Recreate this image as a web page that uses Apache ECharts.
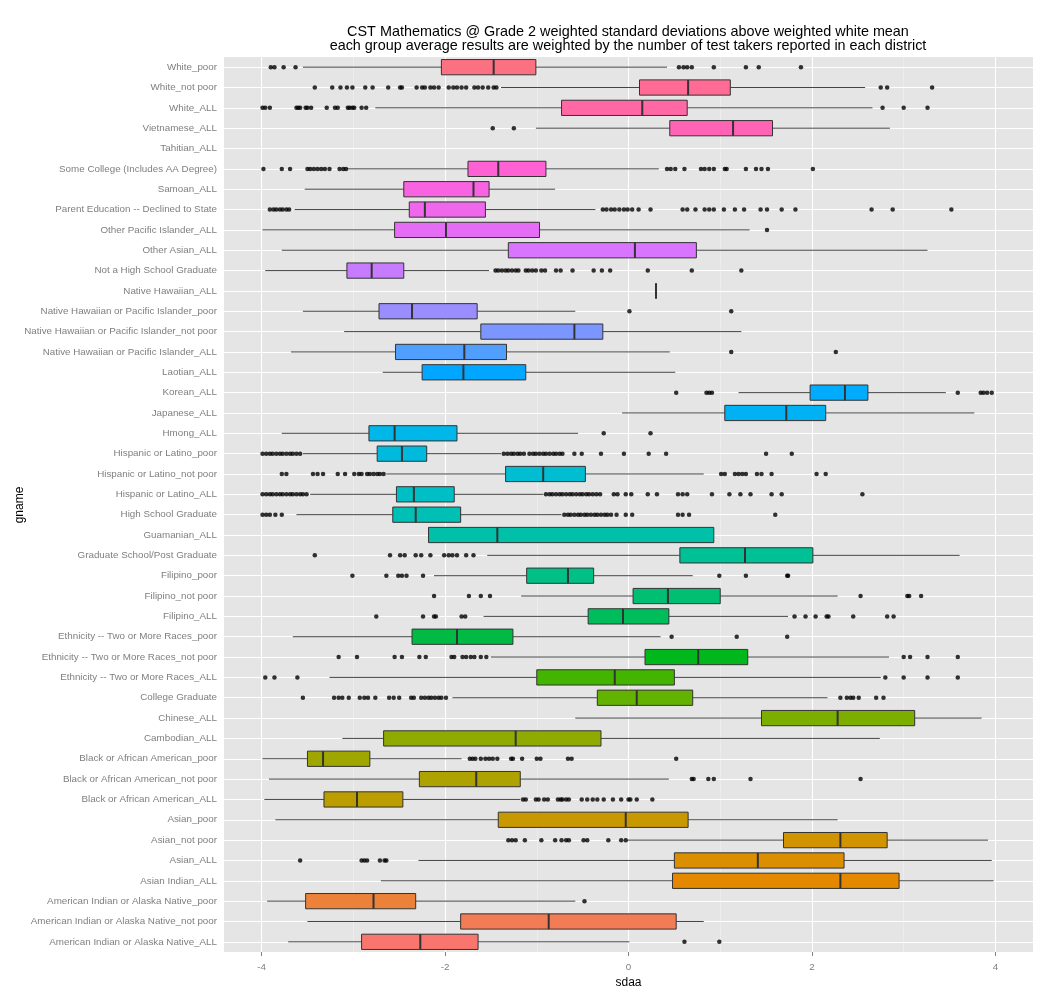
<!DOCTYPE html>
<html>
<head>
<meta charset="utf-8">
<script src="https://cdn.jsdelivr.net/npm/echarts@6/dist/echarts.min.js"></script>
<style>
  html, body { margin: 0; padding: 0; background: #fff; }
  #main { width: 1052px; height: 996px; }
</style>
</head>
<body>
<div id="main"></div>
<script>
// groups, bottom to top (alphabetical factor levels)
const categories = [
  'American Indian or Alaska Native_ALL',
  'American Indian or Alaska Native_not poor',
  'American Indian or Alaska Native_poor',
  'Asian Indian_ALL',
  'Asian_ALL',
  'Asian_not poor',
  'Asian_poor',
  'Black or African American_ALL',
  'Black or African American_not poor',
  'Black or African American_poor',
  'Cambodian_ALL',
  'Chinese_ALL',
  'College Graduate',
  'Ethnicity -- Two or More Races_ALL',
  'Ethnicity -- Two or More Races_not poor',
  'Ethnicity -- Two or More Races_poor',
  'Filipino_ALL',
  'Filipino_not poor',
  'Filipino_poor',
  'Graduate School/Post Graduate',
  'Guamanian_ALL',
  'High School Graduate',
  'Hispanic or Latino_ALL',
  'Hispanic or Latino_not poor',
  'Hispanic or Latino_poor',
  'Hmong_ALL',
  'Japanese_ALL',
  'Korean_ALL',
  'Laotian_ALL',
  'Native Hawaiian or Pacific Islander_ALL',
  'Native Hawaiian or Pacific Islander_not poor',
  'Native Hawaiian or Pacific Islander_poor',
  'Native Hawaiian_ALL',
  'Not a High School Graduate',
  'Other Asian_ALL',
  'Other Pacific Islander_ALL',
  'Parent Education -- Declined to State',
  'Samoan_ALL',
  'Some College (Includes AA Degree)',
  'Tahitian_ALL',
  'Vietnamese_ALL',
  'White_ALL',
  'White_not poor',
  'White_poor'
];

const whiskerLow = [-3.71, -3.50, -3.94, -2.70, -2.29, -0.01, -3.85, -3.97, -3.92, -3.99,
  -3.12, -0.58, -1.92, -3.26, -1.50, -3.66, -1.58, -1.17, -2.12, -1.54,
  -2.18, -3.62, -3.47, -2.64, -3.55, -3.78, -0.07, 1.20, -2.68, -3.68,
  -3.10, -3.55, 0.30, -3.96, -3.78, -3.99, -3.64, -3.53, -3.07, null,
  -1.01, -2.76, -1.39, -3.55];
const q1 = [-2.91, -1.83, -3.52, 0.48, 0.50, 1.69, -1.42, -3.32, -2.28, -3.50,
  -2.67, 1.45, -0.34, -1.00, 0.18, -2.36, -0.44, 0.05, -1.11, 0.56,
  -2.18, -2.57, -2.53, -1.34, -2.74, -2.83, 1.05, 1.98, -2.25, -2.54,
  -1.61, -2.72, 0.30, -3.07, -1.31, -2.55, -2.39, -2.45, -1.75, null,
  0.45, -0.73, 0.12, -2.04];
const median = [-2.27, -0.87, -2.78, 2.31, 1.41, 2.31, -0.03, -2.96, -1.66, -3.33,
  -1.23, 2.28, 0.09, -0.15, 0.76, -1.87, -0.06, 0.43, -0.66, 1.27,
  -1.43, -2.32, -2.34, -0.93, -2.47, -2.55, 1.72, 2.36, -1.80, -1.79,
  -0.59, -2.36, 0.30, -2.80, 0.07, -1.99, -2.22, -1.69, -1.42, null,
  1.14, 0.15, 0.65, -1.47];
const q3 = [-1.64, 0.52, -2.32, 2.95, 2.35, 2.82, 0.65, -2.46, -1.18, -2.82,
  -0.30, 3.12, 0.70, 0.50, 1.30, -1.26, 0.44, 1.00, -0.38, 2.01,
  0.93, -1.83, -1.90, -0.47, -2.20, -1.87, 2.15, 2.61, -1.12, -1.33,
  -0.28, -1.65, 0.30, -2.45, 0.74, -0.97, -1.56, -1.52, -0.90, null,
  1.57, 0.64, 1.11, -1.01];
const whiskerHigh = [0.01, 0.82, -0.58, 3.98, 3.96, 3.92, 2.28, -1.18, 0.44, -1.82,
  2.74, 3.85, 2.17, 2.75, 2.84, 0.35, 1.74, 2.28, 0.70, 3.61,
  0.93, -0.73, -0.93, 0.82, -1.39, -0.55, 3.77, 3.46, 0.51, 0.45,
  1.23, -0.58, 0.30, -1.52, 3.26, 1.32, -0.36, -0.80, 0.33, null,
  2.85, 2.66, 2.58, 0.42];

// outlying districts per group (same order as categories)
const outliers = [
  [0.61, 0.99],
  [],
  [-0.48],
  [],
  [-3.58, -2.91, -2.88, -2.85, -2.71, -2.66, -2.64],
  [-1.31, -1.27, -1.23, -1.13, -0.95, -0.80, -0.73, -0.68, -0.65, -0.49, -0.45, -0.22, -0.08, -0.03],
  [],
  [-1.15, -1.12, -1.01, -0.98, -0.92, -0.88, -0.77, -0.74, -0.72, -0.68, -0.65, -0.51, -0.45, -0.39, -0.34, -0.27, -0.17, -0.08, 0.00, 0.02, 0.09, 0.26],
  [0.69, 0.71, 0.87, 0.93, 1.33, 2.53],
  [-1.73, -1.70, -1.67, -1.61, -1.56, -1.52, -1.48, -1.43, -1.28, -1.26, -1.16, -1.00, -0.96, -0.66, -0.62, 0.52],
  [],
  [],
  [-3.55, -3.21, -3.16, -3.12, -3.05, -2.93, -2.88, -2.84, -2.76, -2.61, -2.56, -2.50, -2.37, -2.34, -2.26, -2.22, -2.18, -2.15, -2.11, -2.07, -2.04, -1.99, 2.31, 2.38, 2.42, 2.45, 2.51, 2.70, 2.78],
  [-3.96, -3.86, -3.61, 2.80, 3.00, 3.26, 3.59],
  [-3.16, -2.96, -2.55, -2.47, -2.28, -2.21, -1.93, -1.90, -1.81, -1.77, -1.72, -1.68, -1.61, -1.55, 3.00, 3.07, 3.26, 3.59],
  [0.47, 1.18, 1.73],
  [-2.75, -2.24, -2.12, -2.10, -1.82, -1.78, 1.81, 1.93, 2.04, 2.16, 2.18, 2.45, 2.82, 2.89],
  [-2.12, -1.74, -1.61, -1.51, 2.53, 3.04, 3.06, 3.19],
  [-3.01, -2.64, -2.51, -2.47, -2.42, -2.24, 0.99, 1.28, 1.73, 1.74],
  [-3.42, -2.60, -2.49, -2.44, -2.32, -2.26, -2.16, -2.01, -1.96, -1.92, -1.87, -1.77, -1.69],
  [],
  [-3.99, -3.95, -3.91, -3.85, -3.78, -0.70, -0.66, -0.63, -0.59, -0.55, -0.52, -0.48, -0.45, -0.41, -0.37, -0.34, -0.30, -0.26, -0.23, -0.19, -0.13, -0.03, 0.04, 0.54, 0.59, 0.66, 1.60],
  [-3.99, -3.95, -3.91, -3.88, -3.84, -3.80, -3.77, -3.73, -3.69, -3.66, -3.62, -3.58, -3.55, -3.51, -0.90, -0.86, -0.83, -0.79, -0.75, -0.72, -0.68, -0.64, -0.61, -0.57, -0.53, -0.50, -0.46, -0.43, -0.39, -0.35, -0.31, -0.16, -0.12, -0.03, 0.03, 0.21, 0.31, 0.54, 0.59, 0.64, 0.91, 1.10, 1.22, 1.33, 1.56, 1.67, 2.55],
  [-3.78, -3.73, -3.44, -3.39, -3.33, -3.17, -3.09, -2.99, -2.94, -2.91, -2.85, -2.82, -2.78, -2.74, -2.71, -2.67, 1.01, 1.05, 1.16, 1.20, 1.24, 1.28, 1.40, 1.45, 1.56, 2.05, 2.15],
  [-3.99, -3.95, -3.91, -3.88, -3.84, -3.80, -3.77, -3.73, -3.69, -3.66, -3.62, -3.58, -1.36, -1.32, -1.28, -1.25, -1.21, -1.18, -1.14, -1.08, -1.04, -1.01, -0.97, -0.93, -0.90, -0.86, -0.82, -0.79, -0.75, -0.72, -0.59, -0.51, -0.30, -0.05, 0.22, 0.41, 1.50, 1.78],
  [-0.27, 0.24],
  [],
  [0.52, 0.85, 0.88, 0.91, 3.59, 3.84, 3.87, 3.91, 3.96],
  [],
  [1.12, 2.26],
  [],
  [0.01, 1.12],
  [],
  [-1.45, -1.42, -1.38, -1.34, -1.31, -1.27, -1.23, -1.20, -1.12, -1.09, -1.05, -1.01, -0.95, -0.91, -0.79, -0.74, -0.61, -0.38, -0.29, -0.20, 0.21, 0.69, 1.23],
  [],
  [1.51],
  [-3.91, -3.87, -3.84, -3.80, -3.77, -3.73, -3.70, -0.28, -0.24, -0.19, -0.15, -0.10, -0.05, -0.01, 0.04, 0.11, 0.24, 0.59, 0.64, 0.73, 0.83, 0.88, 0.93, 1.04, 1.16, 1.26, 1.44, 1.51, 1.67, 1.82, 2.65, 2.88, 3.52],
  [],
  [-3.98, -3.78, -3.69, -3.50, -3.47, -3.43, -3.39, -3.35, -3.31, -3.26, -3.15, -3.11, -3.08, 0.42, 0.46, 0.51, 0.61, 0.79, 0.83, 0.88, 0.93, 1.05, 1.07, 1.28, 1.39, 1.45, 1.52, 2.01],
  [],
  [-1.48, -1.25],
  [-3.99, -3.96, -3.91, -3.62, -3.60, -3.58, -3.52, -3.50, -3.46, -3.29, -3.20, -3.17, -3.06, -3.04, -3.01, -2.99, -2.91, -2.86, 2.77, 3.00, 3.26],
  [-3.42, -3.23, -3.14, -3.07, -3.01, -2.87, -2.79, -2.62, -2.49, -2.47, -2.31, -2.25, -2.22, -2.16, -2.12, -2.07, -1.96, -1.91, -1.87, -1.82, -1.77, -1.68, -1.64, -1.59, -1.53, -1.47, -1.44, 2.75, 2.82, 3.31],
  [-3.90, -3.86, -3.76, -3.63, 0.55, 0.60, 0.64, 0.69, 0.93, 1.28, 1.42, 1.88]
];

const xTicks = [-4, -2, 0, 2, 4];
const xMinor = [-3, -1, 1, 3];

// ggplot-like hue palette (hcl, c = 100, l = 65)
function hcl(h, c, l) {
  const hr = h * Math.PI / 180;
  const U = c * Math.cos(hr), V = c * Math.sin(hr);
  const Xn = 95.047, Yn = 100, Zn = 108.883;
  const un = 4 * Xn / (Xn + 15 * Yn + 3 * Zn), vn = 9 * Yn / (Xn + 15 * Yn + 3 * Zn);
  const Y = l > 8 ? Yn * Math.pow((l + 16) / 116, 3) : Yn * l / 903.3;
  const u = U / (13 * l) + un, v = V / (13 * l) + vn;
  const X = 9 * Y * u / (4 * v);
  const Z = (9 * Y / v - X - 15 * Y) / 3;
  const x = X / 100, y = Y / 100, z = Z / 100;
  const lin = [
    3.240479 * x - 1.537150 * y - 0.498535 * z,
    -0.969256 * x + 1.875992 * y + 0.041556 * z,
    0.055648 * x - 0.204043 * y + 1.057311 * z
  ];
  return '#' + lin.map(t => {
    t = t <= 0.0031308 ? 12.92 * t : 1.055 * Math.pow(t, 1 / 2.4) - 0.055;
    t = Math.max(0, Math.min(1, t));
    return Math.round(t * 255).toString(16).padStart(2, '0');
  }).join('');
}
const boxColors = categories.map((c, i) => hcl(15 + i * 360 / categories.length, 100, 65));

const boxData = [];
categories.forEach((c, i) => {
  if (median[i] === null) return;
  boxData.push([i, whiskerLow[i], q1[i], median[i], q3[i], whiskerHigh[i]]);
});
const outlierData = [];
outliers.forEach((vals, i) => vals.forEach(v => outlierData.push([v, i])));

function renderBox(params, api) {
  const i = api.value(0);
  const pLo = api.coord([api.value(1), i]);
  const pQ1 = api.coord([api.value(2), i]);
  const pMed = api.coord([api.value(3), i]);
  const pQ3 = api.coord([api.value(4), i]);
  const pHi = api.coord([api.value(5), i]);
  const h = api.size([0, 1])[1] * 0.75;
  const y = pMed[1];
  const dark = '#333333';
  return {
    type: 'group',
    children: [
      { type: 'line', shape: { x1: pLo[0], y1: y, x2: pQ1[0], y2: y }, style: { stroke: '#444444', lineWidth: 1 } },
      { type: 'line', shape: { x1: pQ3[0], y1: y, x2: pHi[0], y2: y }, style: { stroke: '#444444', lineWidth: 1 } },
      { type: 'rect', shape: { x: pQ1[0], y: y - h / 2, width: pQ3[0] - pQ1[0], height: h },
        style: { fill: boxColors[i], stroke: dark, lineWidth: 1 } },
      { type: 'line', shape: { x1: pMed[0], y1: y - h / 2, x2: pMed[0], y2: y + h / 2 },
        style: { stroke: dark, lineWidth: 2 } }
    ]
  };
}

const chart = echarts.init(document.getElementById('main'));
const labelFont = 'Liberation Sans, Arial, sans-serif';

chart.setOption({
  animation: false,
  textStyle: { fontFamily: labelFont },
  graphic: [
    { type: 'text', x: 628, y: 32, style: { text: 'CST Mathematics @ Grade 2 weighted standard deviations above weighted white mean',
      textAlign: 'center', textVerticalAlign: 'middle', fontSize: 14.4, fill: '#000', fontFamily: labelFont } },
    { type: 'text', x: 628, y: 46, style: { text: 'each group average results are weighted by the number of test takers reported in each district',
      textAlign: 'center', textVerticalAlign: 'middle', fontSize: 14.4, fill: '#000', fontFamily: labelFont } },
    { type: 'text', x: 20, y: 505, rotation: Math.PI / 2, style: { text: 'gname',
      textAlign: 'center', textVerticalAlign: 'middle', fontSize: 12, fill: '#000', fontFamily: labelFont } }
  ],
  grid: {
    left: 224, right: 19, top: 57, bottom: 44,
    containLabel: false, outerBoundsMode: 'none',
    show: true, backgroundColor: '#E5E5E5', borderWidth: 0
  },
  xAxis: {
    type: 'value',
    min: -4.41, max: 4.41,
    name: 'sdaa', nameLocation: 'middle', nameGap: 21,
    nameTextStyle: { color: '#000', fontSize: 12 },
    axisLine: { show: false },
    axisTick: { show: true, length: 4, lineStyle: { color: '#7F7F7F' }, customValues: xTicks },
    axisLabel: { color: '#7F7F7F', fontSize: 9.8, margin: 10, customValues: xTicks },
    splitLine: { show: false }
  },
  yAxis: {
    type: 'category',
    data: categories,
    axisLine: { show: false },
    axisTick: { show: true, alignWithLabel: true, length: 4, lineStyle: { color: '#7F7F7F' } },
    axisLabel: { color: '#7F7F7F', fontSize: 9.8, margin: 7, interval: 0 },
    splitLine: { show: false }
  },
  series: [
    {
      type: 'scatter',
      data: [],
      z: 1,
      silent: true,
      markLine: {
        z: 1,
        silent: true,
        symbol: 'none',
        label: { show: false },
        animation: false,
        data: [
          ...xMinor.map(v => ({ xAxis: v, lineStyle: { color: '#F2F2F2', width: 0.6, type: 'solid' } })),
          ...xTicks.map(v => ({ xAxis: v, lineStyle: { color: '#FFFFFF', width: 1.1, type: 'solid' } })),
          ...categories.map(c => ({ yAxis: c, lineStyle: { color: '#FFFFFF', width: 1.1, type: 'solid' } }))
        ]
      }
    },
    {
      type: 'custom',
      z: 2,
      renderItem: renderBox,
      encode: { x: [1, 2, 3, 4, 5], y: 0 },
      data: boxData
    },
    {
      type: 'scatter',
      z: 3,
      symbolSize: 4.5,
      itemStyle: { color: '#000' },
      data: outlierData
    }
  ]
});
</script>
</body>
</html>
